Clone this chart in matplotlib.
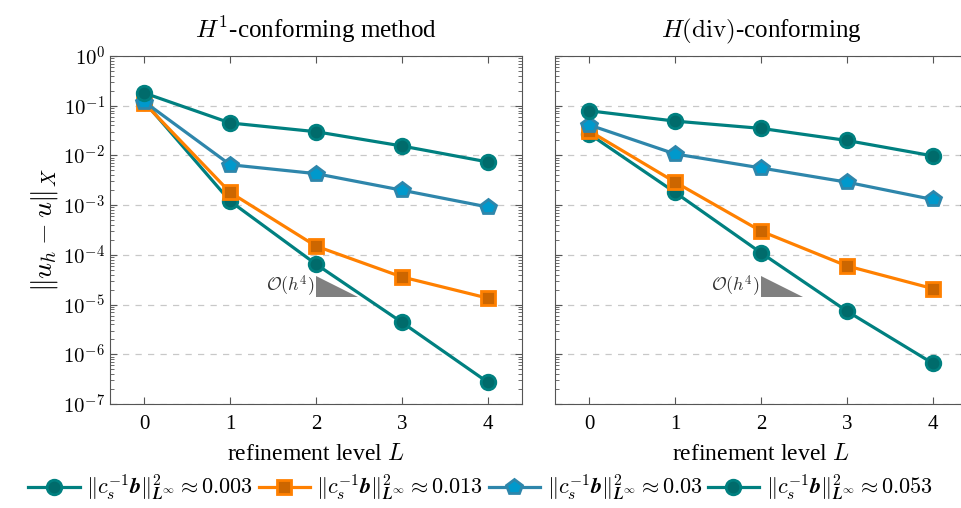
import matplotlib
matplotlib.use('Agg')
from matplotlib import pyplot as plt
from matplotlib.ticker import LogLocator, NullFormatter
import numpy as np

plt.rcParams['mathtext.fontset'] = 'cm'
plt.rcParams['font.family'] = 'Liberation Serif'

levels = [0, 1, 2, 3, 4]
labels = ['0.003', '0.013', '0.03', '0.053']

# H1-conforming errors per refinement level
h1_err = [
    [0.12, 1.2e-3, 6.5e-5, 4.4e-6, 2.75e-7],
    [0.113, 1.8e-3, 1.5e-4, 3.6e-5, 1.35e-5],
    [0.12, 6.5e-3, 4.3e-3, 2.0e-3, 9.2e-4],
    [0.18, 4.5e-2, 3.0e-2, 1.55e-2, 7.4e-3],
]
# H(div)-conforming errors per refinement level
hdiv_err = [
    [0.027, 1.8e-3, 1.1e-4, 7.4e-6, 6.6e-7],
    [0.031, 2.9e-3, 3.0e-4, 6.0e-5, 2.1e-5],
    [0.041, 1.07e-2, 5.6e-3, 2.9e-3, 1.3e-3],
    [0.079, 4.9e-2, 3.5e-2, 2.0e-2, 9.8e-3],
]

# slope triangle corners (level, error)
tri_x = [2.0, 2.0, 2.49]
tri_y = [3.7e-5, 1.4e-5, 1.4e-5]

styles = [
    dict(color='#008080', marker='o', mfc='#006b6b', mec='#008080', ms=10.5),
    dict(color='#ff8000', marker='s', mfc='#cc6600', mec='#ff8000', ms=10.5),
    dict(color='#2e86ab', marker='p', mfc='#0099cc', mec='#2e86ab', ms=11.5),
    dict(color='#008080', marker='o', mfc='#006b6b', mec='#008080', ms=10.5),
]

fig = plt.figure(figsize=(9.61, 5.08), dpi=100)
ax1 = fig.add_axes([110 / 961, 104 / 508, 412 / 961, 348 / 508])
ax2 = fig.add_axes([555 / 961, 104 / 508, 412 / 961, 348 / 508])

for ax, data, title in [(ax1, h1_err, r'$H^1$-conforming method'),
                        (ax2, hdiv_err, r'$H(\mathrm{div})$-conforming')]:
    handles = []
    for vals, st, lab in zip(data, styles, labels):
        h, = ax.plot(levels, vals, lw=2.3, mew=2,
                     label=r'$\|c_s^{-1}\boldsymbol{b}\|^2_{\boldsymbol{L}^\infty} \approx ' + lab + '$',
                     **st)
        handles.append(h)
    ax.fill(tri_x, tri_y, color='#808080', lw=0)
    ax.text(1.98, np.sqrt(tri_y[0] * tri_y[1]), r'$\mathcal{O}(h^4)$',
            ha='right', va='center', fontsize=13, color='#333333')
    ax.set_yscale('log')
    ax.set_ylim(1e-7, 1)
    ax.set_xlim(-0.4, 4.4)
    ax.set_xticks(levels)
    ax.set_yticks([10.0 ** k for k in range(-7, 1)])
    ax.yaxis.set_minor_locator(LogLocator(base=10, subs=np.arange(2, 10), numticks=20))
    ax.yaxis.set_minor_formatter(NullFormatter())
    ax.grid(axis='y', which='major', ls=(0, (5, 5)), color='#c8c8c8', lw=0.9)
    ax.tick_params(which='both', direction='in', top=True, right=True, colors='#555555',
                   labelcolor='black', labelsize=15)
    ax.tick_params(which='major', length=5)
    ax.tick_params(which='minor', length=3)
    ax.tick_params(axis='x', pad=8)
    for s in ax.spines.values():
        s.set_color('#555555')
    ax.set_title(title, fontsize=18, pad=13)
    ax.set_xlabel(r'refinement level $L$', fontsize=17, labelpad=7)
    ax.set_axisbelow(True)

ax1.set_yticklabels([r'$10^{%d}$' % k for k in range(-7, 1)])
ax2.set_yticklabels([])
ax1.set_ylabel(r'$\|u_h - u\|_X$', fontsize=20, labelpad=2)

fig.legend(handles=handles, loc='lower center', bbox_to_anchor=(0.5, -0.03), ncol=4,
           frameon=False, fontsize=16, handlelength=2.3, handletextpad=0.3,
           columnspacing=0.25)

fig.savefig('out.png', dpi=100)
